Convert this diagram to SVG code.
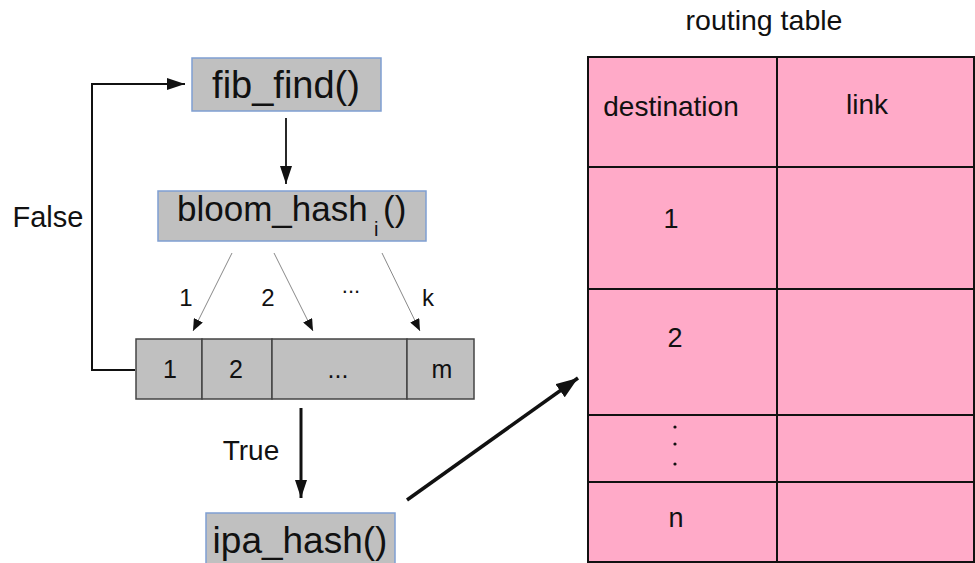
<svg xmlns="http://www.w3.org/2000/svg" width="975" height="563" viewBox="0 0 975 563">
<defs>
<style>
text{font-family:"Liberation Sans",Arial,sans-serif;fill:#111}
.fn{fill:#c0c0c0;stroke:#7f9fd2;stroke-width:1.5}
.cell{fill:#c0c0c0;stroke:#444;stroke-width:1.5}
.tbl{fill:#ffaac8;stroke:#111;stroke-width:2}
.ln{fill:none;stroke:#111}
.thin{fill:none;stroke:#888;stroke-width:1}
</style>
<marker id="ah" markerUnits="userSpaceOnUse" markerWidth="18" markerHeight="12" refX="18" refY="6" orient="auto"><path d="M0,0 L18,6 L0,12 z" fill="#111"/></marker>
<marker id="ahb" markerUnits="userSpaceOnUse" markerWidth="22" markerHeight="16" refX="22" refY="8" orient="auto"><path d="M0,0 L22,8 L0,16 z" fill="#111"/></marker>
<marker id="ahs" markerUnits="userSpaceOnUse" markerWidth="12" markerHeight="10" refX="12" refY="5" orient="auto"><path d="M0,0 L12,5 L0,10 z" fill="#111"/></marker>
</defs>
<rect width="975" height="563" fill="#fff"/>

<g id="connectors">
<line class="ln" x1="286" y1="118" x2="286" y2="184" stroke-width="1.8" marker-end="url(#ah)"/>
<polyline class="ln" points="135,370 92,370 92,84 185,84" stroke-width="2" marker-end="url(#ah)"/>
<line class="thin" x1="232" y1="253" x2="193" y2="331" marker-end="url(#ahs)"/>
<line class="thin" x1="274" y1="253" x2="313" y2="331" marker-end="url(#ahs)"/>
<line class="thin" x1="382" y1="253" x2="420" y2="331" marker-end="url(#ahs)"/>
<line class="ln" x1="301" y1="408" x2="301" y2="498" stroke="#333" stroke-width="3" marker-end="url(#ah)"/>
<line class="ln" x1="407" y1="500" x2="578" y2="378" stroke-width="3.5" marker-end="url(#ahb)"/>
<text x="48" y="227" font-size="29" text-anchor="middle">False</text>
<text x="186" y="306" font-size="24" text-anchor="middle">1</text>
<text x="268" y="306" font-size="24" text-anchor="middle">2</text>
<text x="351" y="293" font-size="22" text-anchor="middle">...</text>
<text x="428" y="306" font-size="24" text-anchor="middle">k</text>
<text x="251" y="460" font-size="28" text-anchor="middle">True</text>
</g>

<g id="fib_find">
<rect class="fn" x="192" y="58" width="189" height="53"/>
<text x="286" y="98" font-size="38" text-anchor="middle">fib_find()</text>
</g>

<g id="bloom_hash">
<rect class="fn" x="158" y="191" width="268" height="50"/>
<text y="221" font-size="35"><tspan x="177">bloom_hash</tspan><tspan x="374" y="236" font-size="20">i</tspan><tspan x="383" y="221">()</tspan></text>
</g>

<g id="bit_array">
<rect class="cell" x="136" y="339" width="66" height="60"/>
<rect class="cell" x="202" y="339" width="70" height="60"/>
<rect class="cell" x="272" y="339" width="135" height="60"/>
<rect class="cell" x="407" y="339" width="67" height="60"/>
<text x="170" y="378" font-size="25" text-anchor="middle">1</text>
<text x="236" y="378" font-size="25" text-anchor="middle">2</text>
<text x="338" y="378" font-size="25" text-anchor="middle">...</text>
<text x="442" y="378" font-size="25" text-anchor="middle">m</text>
</g>

<g id="ipa_hash">
<rect class="fn" x="206" y="513" width="189" height="54"/>
<text x="300" y="553" font-size="37" text-anchor="middle">ipa_hash()</text>
</g>

<g id="routing_table">
<text x="764" y="30" font-size="28.5" text-anchor="middle">routing table</text>
<rect class="tbl" x="588" y="57" width="189" height="110"/>
<rect class="tbl" x="777" y="57" width="197" height="110"/>
<rect class="tbl" x="588" y="167" width="189" height="122"/>
<rect class="tbl" x="777" y="167" width="197" height="122"/>
<rect class="tbl" x="588" y="289" width="189" height="126"/>
<rect class="tbl" x="777" y="289" width="197" height="126"/>
<rect class="tbl" x="588" y="415" width="189" height="67"/>
<rect class="tbl" x="777" y="415" width="197" height="67"/>
<rect class="tbl" x="588" y="482" width="189" height="80"/>
<rect class="tbl" x="777" y="482" width="197" height="80"/>
<text x="671" y="116" font-size="28" text-anchor="middle">destination</text>
<text x="867" y="114" font-size="28" text-anchor="middle">link</text>
<text x="671" y="228" font-size="27" text-anchor="middle">1</text>
<text x="675" y="347" font-size="27" text-anchor="middle">2</text>
<circle cx="675" cy="427" r="1.6" fill="#111"/>
<circle cx="675" cy="444" r="1.6" fill="#111"/>
<circle cx="675" cy="464" r="1.6" fill="#111"/>
<text x="676" y="527" font-size="27" text-anchor="middle">n</text>
</g>
</svg>
